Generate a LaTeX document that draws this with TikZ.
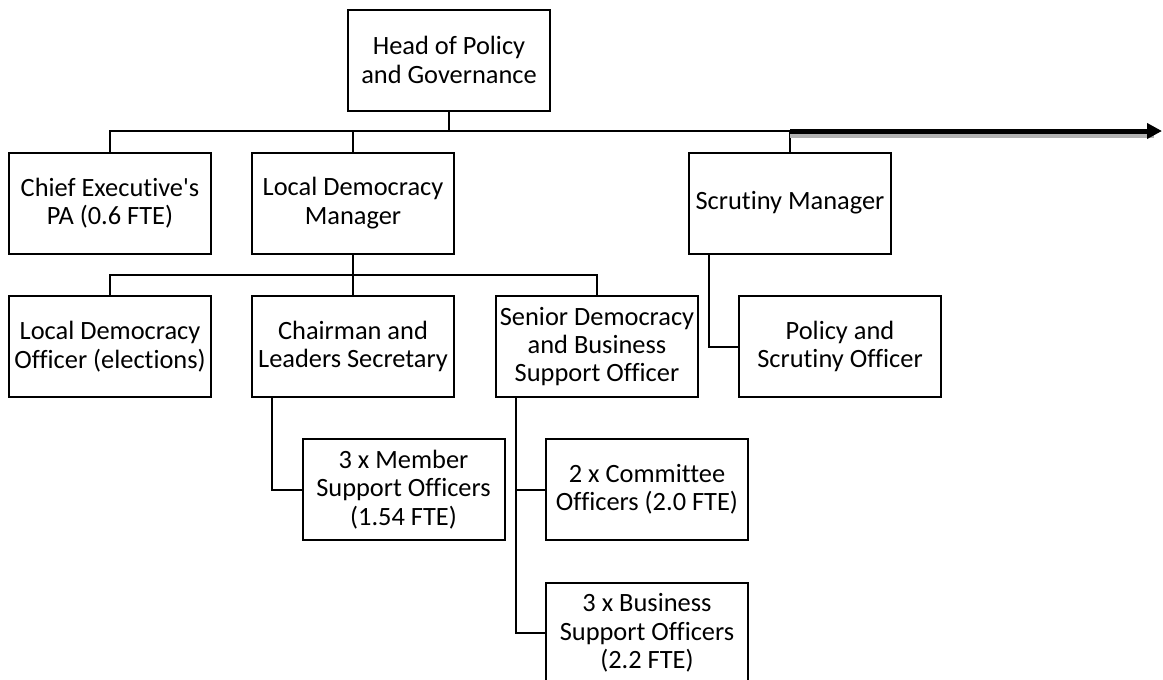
\documentclass[tikz,border=0pt]{standalone}
\usepackage{fontspec}
\setmainfont{Carlito}[Ligatures={NoCommon}]
\usetikzlibrary{arrows.meta}

\begin{document}
\begin{tikzpicture}[x=0.5pt,y=-0.5pt,line width=1pt,
postbox/.style={draw,rectangle,line width=1pt,inner sep=1pt,minimum width=101pt,minimum height=50.5pt,align=center,font=\fontsize{13.2}{14.2}\selectfont},
link/.style={line width=1pt},
feed/.style={line width=2.5pt,-{Triangle[length=7.5pt,width=7.5pt]}},
feedshadow/.style={line width=2.5pt,color=black!30}]

\useasboundingbox (0,0) rectangle (1163,680);

\draw (449,60) node[postbox] (head) {Head of Policy\\and Governance};

\draw (110,203) node[postbox] (ce) {Chief Executive\textquotesingle s\\PA (0.6 FTE)};
\draw (353,203) node[postbox] (ldm) {Local Democracy\\Manager};
\draw (790,203) node[postbox] (sm) {Scrutiny Manager};

\draw (110,346.5) node[postbox] (ldo) {Local Democracy\\Officer (elections)};
\draw (353,346.5) node[postbox] (cls) {Chairman and\\Leaders Secretary};
\draw (597,346.5) node[postbox] (sdbso) {Senior Democracy\\and Business\\Support Officer};
\draw (840,346.5) node[postbox] (pso) {Policy and\\Scrutiny Officer};

\draw (403.5,489.5) node[postbox] (mso) {3 x Member\\Support Officers\\(1.54 FTE)};
\draw (647,489.5) node[postbox] (co) {2 x Committee\\Officers (2.0 FTE)};
\draw (647,633) node[postbox] (bso) {3 x Business\\Support Officers\\(2.2 FTE)};

\coordinate (bus) at (449,131);
\coordinate (ldmbus) at (353,275);
\coordinate (arrowend) at (1162,131);

\draw[link] (head.south) -- (bus);
\draw[link] (ce.north) |- (bus) -| (sm.north);
\draw[link] (ldm.north) -- (ldm.north |- bus);
\draw[feedshadow] ([yshift=-2pt]sm.north |- bus) -- ([xshift=-4pt,yshift=-2pt]arrowend);
\draw[feed] (sm.north |- bus) -- (arrowend);

\draw[link] (ldm.south) -- (cls.north);
\draw[link] (ldo.north) |- (ldmbus) -| (sdbso.north);
\draw[link] ([xshift=10.5pt]sm.south west) |- (pso.west);

\draw[link] ([xshift=10.5pt]cls.south west) |- (mso.west);
\draw[link] ([xshift=10.5pt]sdbso.south west) |- (co.west);
\draw[link] ([xshift=10.5pt]sdbso.south west) |- (bso.west);

\end{tikzpicture}
\end{document}
